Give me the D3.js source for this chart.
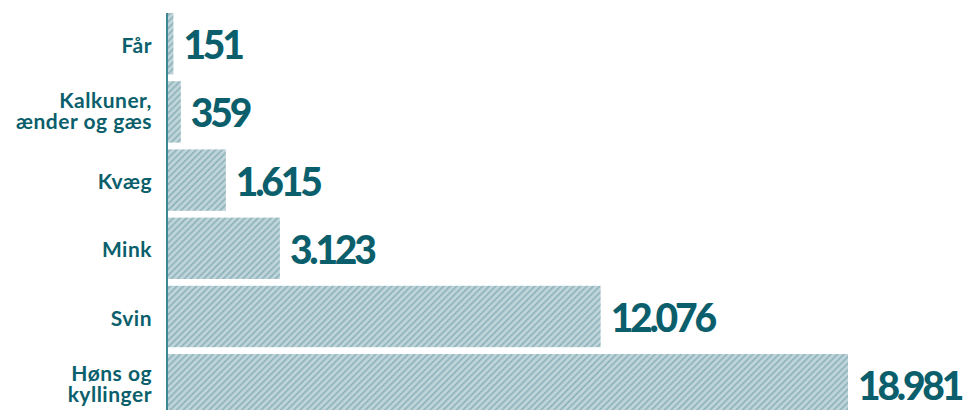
<!DOCTYPE html>
<html>
<head>
<meta charset="utf-8">
<script src="https://cdn.jsdelivr.net/npm/d3@7"></script>
<style>
  html, body { margin: 0; padding: 0; background: #fff; }
  svg { display: block; }
</style>
</head>
<body>
<div id="chart"></div>
<script>
// categories (two-line labels split with "|")
const categories = ["Får", "Kalkuner,|ænder og gæs", "Kvæg", "Mink", "Svin", "Høns og|kyllinger"];
const values = [151, 359, 1615, 3123, 12076, 18981];

const fmt = v => d3.format(",")(v).replace(/,/g, ".");

const width = 967, height = 410;
const textColor = "#0b5f6c";

const svg = d3.select("#chart")
  .append("svg")
  .attr("width", width)
  .attr("height", height);

// =========================
// STRIPE PATTERN
// =========================
const defs = svg.append("defs");
const pattern = defs.append("pattern")
  .attr("id", "stripes")
  .attr("patternUnits", "userSpaceOnUse")
  .attr("width", 4.6)
  .attr("height", 4.6)
  .attr("patternTransform", "rotate(45)");
pattern.append("rect")
  .attr("width", 4.6)
  .attr("height", 4.6)
  .attr("fill", "#bed4d9");
pattern.append("rect")
  .attr("width", 1.6)
  .attr("height", 4.6)
  .attr("fill", "#8db2bb");

const x = d3.scaleLinear()
  .domain([0, d3.max(values)])
  .range([168, 848]);

const y = d3.scaleBand()
  .domain(categories)
  .range([13, 415.4])
  .paddingInner(0.1)
  .paddingOuter(0);

const data = categories.map((c, i) => ({ cat: c, value: values[i] }));

// bars
svg.append("g")
  .selectAll("rect")
  .data(data)
  .join("rect")
  .attr("x", x(0))
  .attr("y", d => y(d.cat))
  .attr("width", d => x(d.value) - x(0))
  .attr("height", y.bandwidth())
  .attr("fill", "url(#stripes)");

// axis line
svg.append("line")
  .attr("x1", x(0) - 1)
  .attr("x2", x(0) - 1)
  .attr("y1", y(categories[0]))
  .attr("y2", height)
  .attr("stroke", "#3f8792")
  .attr("stroke-width", 2);

// value labels
svg.append("g")
  .selectAll("text")
  .data(data)
  .join("text")
  .attr("x", d => x(d.value) + 10)
  .attr("y", d => y(d.cat) + y.bandwidth() / 2 + 15.5)
  .attr("fill", textColor)
  .style("font-family", "Lato, sans-serif")
  .style("font-weight", 900)
  .style("font-size", "39px")
  .style("letter-spacing", "-3.2px")
  .text(d => fmt(d.value));

// category labels
const labels = svg.append("g")
  .selectAll("text")
  .data(data)
  .join("text")
  .attr("text-anchor", "end")
  .attr("fill", textColor)
  .style("font-family", "Lato, sans-serif")
  .style("font-weight", 700)
  .style("font-size", "21px")
  .style("letter-spacing", "0.5px")
  .attr("transform", d => `translate(152,${y(d.cat) + y.bandwidth() / 2})`);

labels.each(function(d) {
  const lines = d.cat.split("|");
  const lh = 21.5;
  const y0 = lines.length > 1 ? -4 : 9;
  d3.select(this).selectAll("tspan")
    .data(lines)
    .join("tspan")
    .attr("x", 0)
    .attr("y", (l, i) => y0 + i * lh)
    .text(l => l);
});
</script>
</body>
</html>
